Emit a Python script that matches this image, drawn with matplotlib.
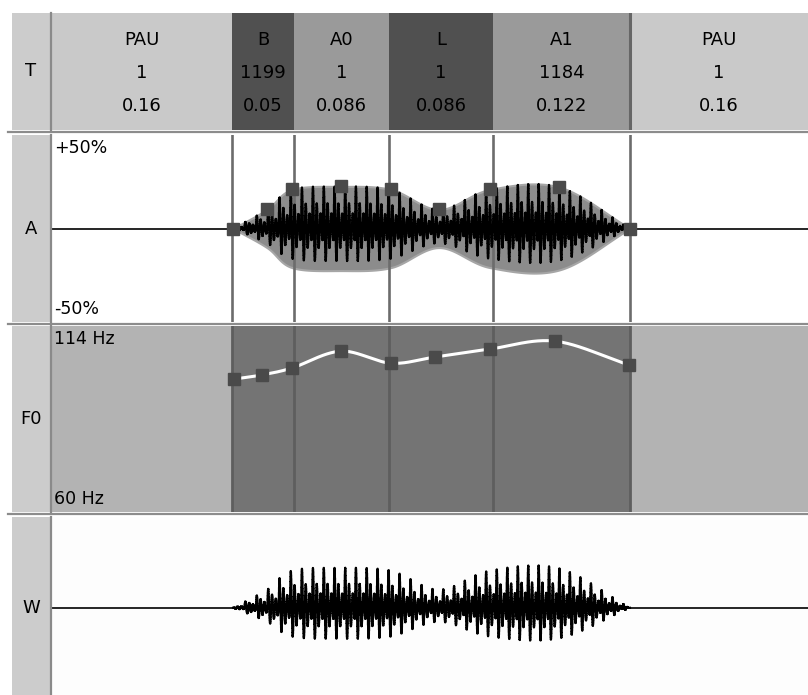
import numpy as np
import matplotlib
matplotlib.use("Agg")
import matplotlib.pyplot as plt
from matplotlib.lines import Line2D

# segment table (T row)
seg_names = ["PAU", "B", "A0", "L", "A1", "PAU"]
seg_counts = ["1", "1199", "1", "1", "1184", "1"]
seg_durs = ["0.16", "0.05", "0.086", "0.086", "0.122", "0.16"]
seg_edges = [0.0, 0.158, 0.2126, 0.296, 0.3873, 0.5077, 0.664]   # s, as drawn
seg_voiced = [False, True, True, True, True, False]

# amplitude envelope control points (A row), percent
amp_t = [0.159, 0.1888, 0.2108, 0.2538, 0.2977, 0.3399, 0.3847, 0.4453, 0.5077]
amp_pct = [0.0, 10.2, 20.9, 22.5, 20.9, 10.2, 20.9, 22.2, 0.0]

# pitch control points (F0 row), Hz
f0_t = [0.1599, 0.1844, 0.2108, 0.2538, 0.2977, 0.3364, 0.3847, 0.4418, 0.5068]
f0_hz = [98.6, 99.8, 101.8, 106.7, 103.2, 105.0, 107.3, 109.6, 102.7]

W, H = 808, 695
cell_col = ["#c9c9c9", "#505050", "#9a9a9a", "#505050", "#9a9a9a", "#c9c9c9"]
FS = 13


def rect(x0, y0, x1, y1):
    return [x0 / W, 1 - y1 / H, (x1 - x0) / W, (y1 - y0) / H]


def bare(ax, fc):
    ax.set_facecolor(fc)
    ax.set_xticks([])
    ax.set_yticks([])
    for s in ax.spines.values():
        s.set_visible(False)


def catmull(x, y, n=40):
    """ Smooth curve through the control points (drawing only). """
    res = []
    for arr in (np.asarray(x, float), np.asarray(y, float)):
        p = np.concatenate([[2 * arr[0] - arr[1]], arr, [2 * arr[-1] - arr[-2]]])
        u = np.linspace(0, 1, n, endpoint=False)
        parts = []
        for i in range(1, len(p) - 2):
            p0, p1, p2, p3 = p[i - 1:i + 3]
            parts.append(0.5 * (2 * p1 + (-p0 + p2) * u
                                + (2 * p0 - 5 * p1 + 4 * p2 - p3) * u ** 2
                                + (-p0 + 3 * p1 - 3 * p2 + p3) * u ** 3))
        parts.append([arr[-1]])
        res.append(np.concatenate(parts))
    return res


fig = plt.figure(figsize=(W / 100, H / 100), dpi=100)
fig.patch.set_facecolor("white")

rows = {"T": (13, 130), "A": (135, 322), "F0": (326, 512), "W": (517, 695)}
axes = {}
for name, (y0, y1) in rows.items():
    lab = fig.add_axes(rect(12, y0, 50, y1))
    bare(lab, "#cccccc")
    lab.text(0.5, 0.5 if name != "W" else 0.49, name, ha="center", va="center",
             fontsize=FS, transform=lab.transAxes)
    fig.add_artist(Line2D([50.5 / W, 50.5 / W], [1 - y0 / H, 1 - y1 / H],
                          color="#8a8a8a", lw=1.6))
    ax = fig.add_axes(rect(52, y0, 808, y1))
    bare(ax, "white")
    ax.set_xlim(seg_edges[0], seg_edges[-1])
    axes[name] = ax
    if name != "W":
        yy = 1 - (y1 + 1.5) / H
        fig.add_artist(Line2D([8 / W, 1], [yy, yy], color="#8c8c8c", lw=1.6))

# T row
ax = axes["T"]
ax.set_ylim(0, 1)
for i in range(len(seg_names)):
    a, b = seg_edges[i], seg_edges[i + 1]
    ax.axvspan(a, b, color=cell_col[i], lw=0)
    m = (a + b) / 2
    ax.text(m, 0.771, seg_names[i], ha="center", va="center", fontsize=FS)
    ax.text(m, 0.49, seg_counts[i], ha="center", va="center", fontsize=FS)
    ax.text(m, 0.203, seg_durs[i], ha="center", va="center", fontsize=FS)
ax.axvline(seg_edges[5], color="#666666", lw=2.2)

# smooth curves + synthetic waveform built from them
et, ev = catmull(amp_t, amp_pct)
ft, fv = catmull(f0_t, f0_hz)
fs = 9000
tg = np.arange(amp_t[0], amp_t[-1], 1 / fs)
env = np.interp(tg, et, ev)
f0g = np.interp(tg, ft, fv)
phase = np.cumsum(f0g) / fs
tau = (phase % 1.0) / f0g
pulse = np.exp(-tau / 0.0065) * np.sin(2 * np.pi * 300 * tau)
pulse = pulse / np.abs(pulse).max()
wave = env * pulse

# A row
ax = axes["A"]
ax.set_ylim(-50, 50)
ax.fill_between(et, -ev, ev, facecolor="#8c8c8c", edgecolor="#a6a6a6", lw=1.5, zorder=1)
for x in seg_edges[1:-1]:
    ax.axvline(x, color="#6c6c6c", lw=1.9, zorder=2)
ax.axhline(0, color="black", lw=1.2, zorder=3)
ax.plot(tg, wave, color="black", lw=1.55, drawstyle="steps-mid", zorder=4)
ax.plot(amp_t, amp_pct, "s", color="#4a4a4a", ms=8, zorder=5)
ax.text(0.003, 0.93, "+50%", ha="left", va="center", fontsize=FS - 0.5, transform=ax.transAxes)
ax.text(0.003, 0.07, "-50%", ha="left", va="center", fontsize=FS - 0.5, transform=ax.transAxes)

# F0 row
ax = axes["F0"]
ax.set_ylim(60, 114)
for i in range(len(seg_names)):
    ax.axvspan(seg_edges[i], seg_edges[i + 1],
               color="#747474" if seg_voiced[i] else "#b3b3b3", lw=0)
for x in seg_edges[1:-1]:
    ax.axvline(x, color="#5e5e5e", lw=2.0)
ax.plot(ft, fv, color="white", lw=2.2)
ax.plot(f0_t, f0_hz, "s", color="#4a4a4a", ms=8)
ax.text(0.003, 0.93, "114 Hz", ha="left", va="center", fontsize=FS - 0.5, transform=ax.transAxes)
ax.text(0.003, 0.07, "60 Hz", ha="left", va="center", fontsize=FS - 0.5, transform=ax.transAxes)

# W row
ax = axes["W"]
ax.set_facecolor("#fdfdfd")
ax.set_ylim(-49, 51)
ax.axhline(0, color="black", lw=1.2)
ax.plot(tg, wave, color="black", lw=1.55, drawstyle="steps-mid")

fig.savefig("out.png", dpi=100)
